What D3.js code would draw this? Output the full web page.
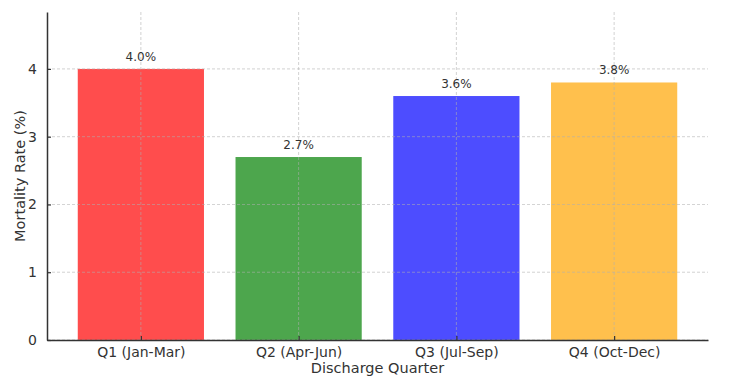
<!DOCTYPE html>
<html>
<head>
<meta charset="utf-8">
<script src="https://cdn.jsdelivr.net/npm/d3@7"></script>
<style>
  body { margin: 0; background: #fff; }
  svg { font-family: "DejaVu Sans", sans-serif; }
</style>
</head>
<body>
<div id="chart"></div>
<script>
// data
var quarters = ['Q1 (Jan-Mar)', 'Q2 (Apr-Jun)', 'Q3 (Jul-Sep)', 'Q4 (Oct-Dec)'];
var mortality = [4.0, 2.7, 3.6, 3.8];
var barColors = ['#ff4d4d', '#4da64d', '#4d4dff', '#ffc04d'];
var yTicks = [0, 1, 2, 3, 4];

var W = 750, H = 386;
var margin = { top: 12, right: 42, bottom: 46, left: 47 };
var width = W - margin.left - margin.right,
    height = H - margin.top - margin.bottom;

var svg = d3.select('#chart').append('svg')
    .attr('width', W)
    .attr('height', H);

var g = svg.append('g')
    .attr('transform', 'translate(' + margin.left + ',' + margin.top + ')');

// x as linear over category index, like matplotlib's -0.6..3.6 limits
var x = d3.scaleLinear().domain([-0.595, 3.595]).range([0, width]);
var y = d3.scaleLinear().domain([0, 4.84]).range([height, 0]);
var barW = x(0.8) - x(0);

// bars
g.selectAll('.bar')
    .data(mortality)
    .enter()
    .append('rect')
    .attr('class', 'bar')
    .attr('x', function (d, i) { return x(i - 0.4); })
    .attr('width', barW)
    .attr('y', function (d) { return y(d); })
    .attr('height', function (d) { return height - y(d); })
    .style('fill', function (d, i) { return barColors[i]; });

// grid (drawn over the bars)
g.selectAll('.hgrid')
    .data(yTicks)
    .enter()
    .append('line')
    .attr('x1', 0).attr('x2', width)
    .attr('y1', function (d) { return y(d); })
    .attr('y2', function (d) { return y(d); })
    .style('stroke', '#b0b0b0')
    .style('stroke-width', 0.8)
    .style('stroke-dasharray', '3,2')
    .style('opacity', 0.7);

g.selectAll('.vgrid')
    .data(quarters)
    .enter()
    .append('line')
    .attr('x1', function (d, i) { return x(i); })
    .attr('x2', function (d, i) { return x(i); })
    .attr('y1', 0).attr('y2', height)
    .style('stroke', '#b0b0b0')
    .style('stroke-width', 0.8)
    .style('stroke-dasharray', '3,2')
    .style('opacity', 0.7);

// value labels
g.selectAll('.val')
    .data(mortality)
    .enter()
    .append('text')
    .attr('x', function (d, i) { return x(i); })
    .attr('y', function (d) { return y(d) - 8; })
    .attr('text-anchor', 'middle')
    .style('font-size', '12px')
    .style('fill', '#333')
    .text(function (d) { return d.toFixed(1) + '%'; });

// axes
var yAxis = d3.axisLeft(y).tickValues(yTicks).tickFormat(d3.format('d'))
    .tickSizeInner(-4).tickSizeOuter(0).tickPadding(10);
var gy = g.append('g').call(yAxis);

var xAxis = d3.axisBottom(x).tickValues([0, 1, 2, 3])
    .tickFormat(function (d) { return quarters[d]; })
    .tickSizeInner(-4).tickSizeOuter(0).tickPadding(7);
var gx = g.append('g')
    .attr('transform', 'translate(0,' + height + ')')
    .call(xAxis);

[gx, gy].forEach(function (ax) {
    ax.attr('font-family', null);
    ax.select('.domain').style('stroke', '#333').style('stroke-width', 1.5);
    ax.selectAll('.tick line').style('stroke', '#333').style('stroke-width', 1.2);
    ax.selectAll('.tick text').style('font-size', '14px').style('fill', '#333');
});

// axis titles
svg.append('text')
    .attr('x', margin.left + width / 2)
    .attr('y', 373)
    .attr('text-anchor', 'middle')
    .style('font-size', '14.5px')
    .style('fill', '#333')
    .text('Discharge Quarter');

svg.append('text')
    .attr('transform', 'translate(25,' + (margin.top + height / 2) + ') rotate(-90)')
    .attr('text-anchor', 'middle')
    .style('font-size', '14.5px')
    .style('fill', '#333')
    .text('Mortality Rate (%)');
</script>
</body>
</html>
